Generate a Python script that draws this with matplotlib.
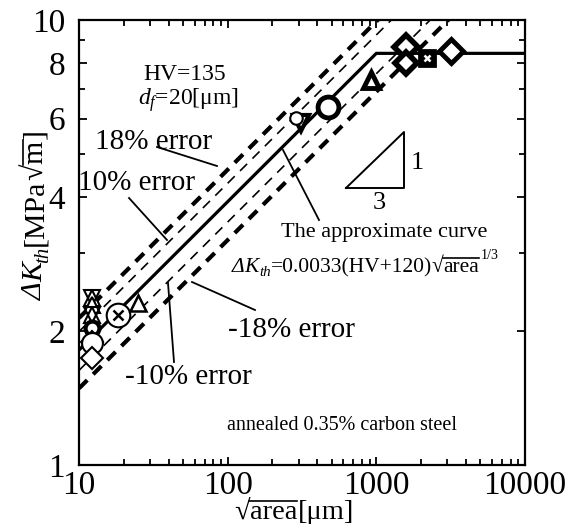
import numpy as np
import matplotlib
matplotlib.use("Agg")
import matplotlib.pyplot as plt
from matplotlib.lines import Line2D
from matplotlib.ticker import FixedLocator, NullFormatter, FuncFormatter, LogLocator

plt.rcParams['font.family'] = ['Liberation Serif', 'DejaVu Serif']
plt.rcParams['mathtext.fontset'] = 'custom'
plt.rcParams['mathtext.rm'] = 'Liberation Serif'
plt.rcParams['mathtext.it'] = 'Liberation Serif:italic'
plt.rcParams['mathtext.bf'] = 'Liberation Serif:bold'
plt.rcParams['mathtext.fallback'] = 'stix'

# ---- data ----
HV = 135
coef = 0.0033
sqrt_area = [12.3, 12.3, 12.3, 12.3, 12.3, 12.3, 12.3, 18.3, 24.8,
             310, 290, 472, 925, 1585, 1585, 2208, 3180]
dKth = [2.37, 2.29, 2.17, 2.03, 1.89, 1.88, 1.74, 2.17, 2.31,
        5.87, 6.03, 6.38, 7.33, 8.7, 8.0, 8.2, 8.5]
err_small = 0.10
err_large = 0.18
x_knee = 1000
y_ticks = [1, 2, 4, 6, 8, 10]
y_minor = [3, 5, 7, 9]
x_ticks = [10, 100, 1000, 10000]

# marker styles (per point)
styles = [
    dict(m=['^', 'v'], ms=12, mew=1.5),
    dict(m=['^'], ms=12, mew=1.5),
    dict(m=['^', 'v'], ms=12, mew=1.5),
    dict(m=['o'], ms=10, mew=3.0),
    dict(m=['D'], ms=11, mew=1.5),
    dict(m=['o'], ms=15, mew=1.5),
    dict(m=['D'], ms=11, mew=1.5),
    dict(m=['o', 'x'], ms=17, mew=1.5),
    dict(m=['^'], ms=12, mew=1.8),
    dict(m=['v'], ms=12, mew=3.0),
    dict(m=['o'], ms=9, mew=1.5),
    dict(m=['o'], ms=15, mew=3.5),
    dict(m=['^'], ms=12, mew=3.5),
    dict(m=['D'], ms=12, mew=4.0),
    dict(m=['D'], ms=11, mew=4.0),
    dict(m=['s', 'wx'], ms=11, mew=2.0, fill='black'),
    dict(m=['D'], ms=12, mew=3.5),
]

W, H = 568, 524
fig = plt.figure(figsize=(W / 100, H / 100), dpi=100)
ax = fig.add_axes([79/W, 1-465/H, 446/W, 445/H])
ax.set_xscale('log')
ax.set_yscale('log')
ax.set_xlim(10, 10000)
ax.set_ylim(1, 10)

# approximate curve and error bands
x = np.logspace(1, 4, 400)
k = coef * (HV + 120)
y_fit = k * np.minimum(x, x_knee) ** (1/3)
y_lin = k * x ** (1/3)
ax.plot(x, y_fit, color='black', lw=2.3, zorder=3)
for s in (1 + err_small, 1 - err_small):
    ax.plot(x, y_lin * s, color='black', lw=1.2, dashes=(6, 4.5), zorder=2)
for s in (1 + err_large, 1 - err_large):
    ax.plot(x, y_lin * s, color='black', lw=3.0, dashes=(2.8, 2.0), zorder=2)

# data points
for xi, yi, st in zip(sqrt_area, dKth, styles):
    for mk in st['m']:
        fc = st.get('fill', 'white')
        if mk in ('x', 'wx'):
            ax.plot(xi, yi, marker='x', ms=st['ms'] * 0.45, mew=1.8,
                    color='white' if mk == 'wx' else 'black',
                    linestyle='none', zorder=5)
        else:
            face = 'none' if (mk == 'v' and len(st['m']) > 1) else fc
            ax.plot(xi, yi, marker=mk, ms=st['ms'], mfc=face,
                    mec='black', mew=st['mew'], linestyle='none', zorder=4)

# axes styling
for sp in ax.spines.values():
    sp.set_linewidth(1.6)
ax.xaxis.set_major_locator(FixedLocator(x_ticks))
ax.xaxis.set_minor_locator(LogLocator(base=10, subs=np.arange(2, 10)))
ax.xaxis.set_major_formatter(FuncFormatter(lambda v, p: f'{int(round(v))}'))
ax.xaxis.set_minor_formatter(NullFormatter())
ax.yaxis.set_major_locator(FixedLocator(y_ticks))
ax.yaxis.set_minor_locator(FixedLocator(y_minor))
ax.yaxis.set_major_formatter(FuncFormatter(lambda v, p: f'{int(round(v))}'))
ax.yaxis.set_minor_formatter(NullFormatter())
ax.tick_params(which='both', direction='in', top=True, right=True, width=1.3)
ax.tick_params(which='major', length=6, labelsize=24)
ax.tick_params(which='minor', length=4)
ax.tick_params(axis='x', which='major', pad=4)
ax.tick_params(axis='y', which='major', pad=10)

R = fig.canvas.get_renderer()


def rich(segs, x0, y0, fs, rot=0):
    """Lay out text pieces one after another; x0, y0 = start baseline in
    display pixels (origin bottom-left)."""
    em = fs * 100 / 72
    pos = 0.0
    for seg in segs:
        txt = seg[0]
        o = seg[1] if len(seg) > 1 else {}
        size = fs * o.get('scale', 1)
        sh = o.get('shift', 0) * em
        if rot == 0:
            px, py = x0 + pos, y0 + sh
        else:
            px, py = x0 - sh, y0 + pos
        t = fig.text(px / W, py / H, txt, fontsize=size,
                     fontstyle='italic' if o.get('it') else 'normal',
                     rotation=rot, rotation_mode='anchor',
                     ha='left', va='baseline')
        bb = t.get_window_extent(R)
        L = bb.width if rot == 0 else bb.height
        if o.get('over'):
            a, b = pos - o.get('pre', 0) * em, pos + L
            h = o.get('oh', 0.64) * em
            if rot == 0:
                xs, ys = [x0 + a, x0 + b], [y0 + h, y0 + h]
            else:
                xs, ys = [x0 - h, x0 - h], [y0 + a, y0 + b]
            fig.add_artist(Line2D([v / W for v in xs], [v / H for v in ys],
                                  transform=fig.transFigure, color='black',
                                  lw=o.get('lw', 1.2)))
        pos += L + o.get('kern', 0) * em


# x label: sqrt(area)[um]
rich([('√',), ('area', dict(over=True, pre=0.03, kern=0.04)), ('[μm]',)],
     234, 5, 20.5)
# y label: dK_th [MPa sqrt(m)]
rich([('Δ', dict(it=True)), ('K', dict(it=True)),
      ('th', dict(it=True, scale=0.7, shift=-0.2)), ('[MPa',), ('√',),
      ('m', dict(over=True, pre=0.03, kern=0.04)), (']',)],
     42, 224, 21.5, rot=90)


def fr(px, py):
    return ((px - 79) / 446, (465 - py) / 445)


T = ax.transAxes
ax.text(*fr(185, 75), 'HV=135', transform=T, fontsize=17, ha='center', va='center')
ax.text(*fr(188, 100), r'$d_f$=20[μm]', transform=T, fontsize=17, ha='center', va='center')
ax.text(*fr(154, 142), '18% error', transform=T, fontsize=21, ha='center', va='center')
ax.text(*fr(137, 183), '10% error', transform=T, fontsize=21, ha='center', va='center')
ax.text(*fr(291, 330), '-18% error', transform=T, fontsize=21, ha='center', va='center')
ax.text(*fr(188, 377), '-10% error', transform=T, fontsize=21, ha='center', va='center')
ax.text(*fr(384, 233), 'The approximate curve', transform=T, fontsize=16, ha='center', va='center')
# formula
rich([('Δ', dict(it=True)), ('K', dict(it=True)),
      ('th', dict(it=True, scale=0.7, shift=-0.2)),
      ('=0.0033(HV+120)',), ('√',),
      ('area', dict(over=True, pre=0.03, kern=0.05)),
      ('1/3', dict(scale=0.65, shift=0.62))],
     232, 252, 15.5)
ax.text(*fr(342, 425), 'annealed 0.35% carbon steel', transform=T, fontsize=14.5,
        ha='center', va='center')

# slope triangle
tri = [fr(346, 188), fr(404, 188), fr(404, 132), fr(346, 188)]
ax.plot([p[0] for p in tri], [p[1] for p in tri], transform=T, color='black', lw=1.4)
ax.text(*fr(417, 163), '1', transform=T, fontsize=19, ha='center', va='center')
ax.text(*fr(379, 203), '3', transform=T, fontsize=19, ha='center', va='center')

# leader lines
leaders = [((157, 147), (217, 166)), ((129, 198), (167, 240)),
           ((283, 150), (319, 220)), ((192, 282), (255, 310)),
           ((168, 283), (174, 362))]
for a, b in leaders:
    pa, pb = fr(*a), fr(*b)
    ax.plot([pa[0], pb[0]], [pa[1], pb[1]], transform=T, color='black', lw=1.3)

fig.savefig('out.png', dpi=100)
